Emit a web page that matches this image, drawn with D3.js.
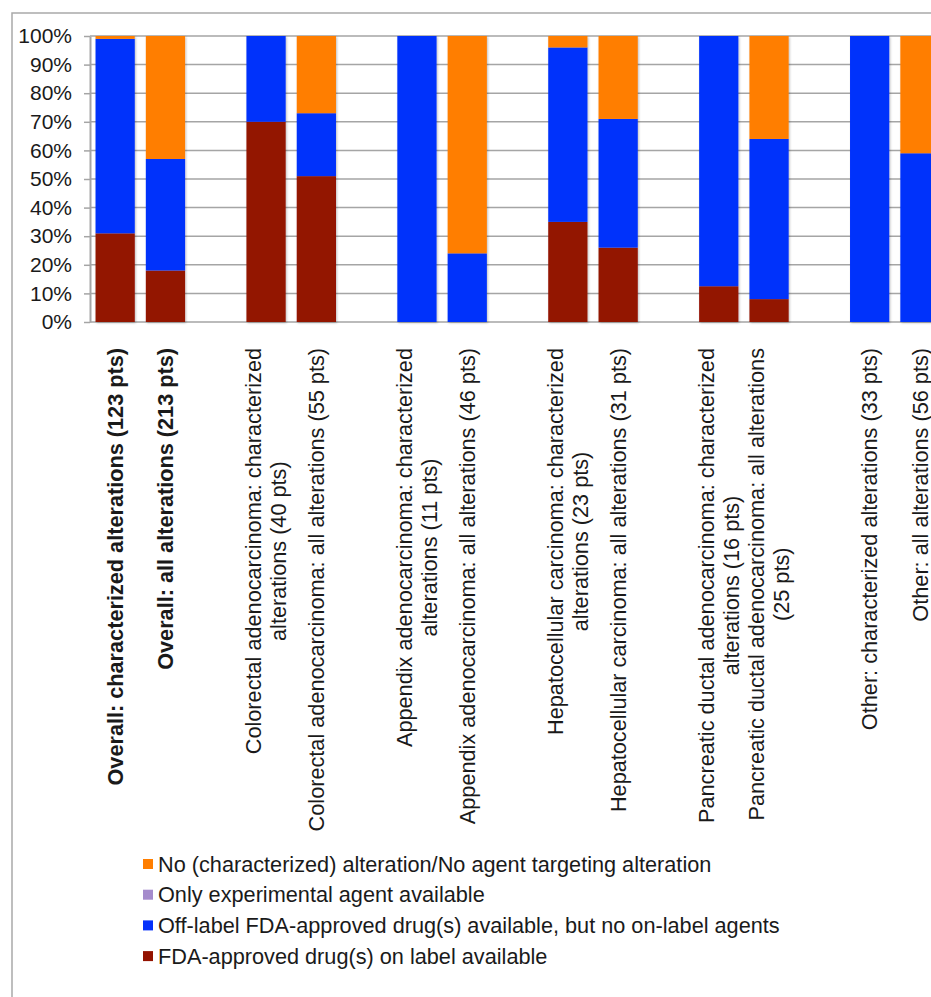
<!DOCTYPE html>
<html lang="en">
<head>
  <meta charset="UTF-8">
  <title>Drug availability by tumor type</title>
  <script src="https://d3js.org/d3.v7.min.js"></script>
  <style>
    body { margin: 0; background: #fff; }
    svg { display: block; font-family: "Liberation Sans", Arial, sans-serif; }
  </style>
</head>
<body>

<script>
  // category labels, already broken into lines like the original
  const labels = [
    ["Overall: characterized alterations (123 pts)"],
    ["Overall: all alterations (213 pts)"],
    ["Colorectal adenocarcinoma: characterized", "alterations (40 pts)"],
    ["Colorectal adenocarcinoma: all alterations (55 pts)"],
    ["Appendix adenocarcinoma: characterized", "alterations (11 pts)"],
    ["Appendix adenocarcinoma: all alterations (46 pts)"],
    ["Hepatocellular carcinoma: characterized", "alterations (23 pts)"],
    ["Hepatocellular carcinoma: all alterations (31 pts)"],
    ["Pancreatic ductal adenocarcinoma: characterized", "alterations (16 pts)"],
    ["Pancreatic ductal adenocarcinoma: all alterations", "(25 pts)"],
    ["Other: characterized alterations (33 pts)"],
    ["Other: all alterations (56 pts)"]
  ];
  const boldLabels = [true, true, false, false, false, false, false, false, false, false, false, false];

  // percentages, bottom to top
  const onLabel      = [31, 18, 70, 51, 0, 0, 35, 26, 12.5, 8, 0, 0];
  const offLabel     = [68, 39, 30, 22, 100, 24, 61, 45, 87.5, 56, 100, 59];
  const experimental = [0, 0, 0, 0, 0, 0, 0, 0, 0, 0, 0, 0];
  const noAgent      = [1, 43, 0, 27, 0, 76, 4, 29, 0, 36, 0, 41];

  const yTicks = [0, 10, 20, 30, 40, 50, 60, 70, 80, 90, 100];

  const seriesNames = [
    "FDA-approved drug(s) on label available",
    "Off-label FDA-approved drug(s) available, but no on-label agents",
    "Only experimental agent available",
    "No (characterized) alteration/No agent targeting alteration"
  ];
  const colors = ["#931200", "#0531fb", "#a58bcc", "#ff7e00"];

  const W = 931, H = 997;
  const svg = d3.select("body").append("svg")
    .attr("width", W)
    .attr("height", H);

  const defs = svg.append("defs");
  defs.append("filter").attr("id", "shadow")
    .attr("x", "-10%").attr("y", "-10%").attr("width", "130%").attr("height", "130%")
    .append("feDropShadow")
    .attr("dx", 1).attr("dy", 1).attr("stdDeviation", 1)
    .attr("flood-color", "#000").attr("flood-opacity", 0.25);

  // outer frame (cut by the picture edge on right/bottom)
  svg.append("rect")
    .attr("x", 12).attr("y", 13)
    .attr("width", W + 20).attr("height", H + 20)
    .attr("fill", "none")
    .attr("stroke", "#a9a9a9")
    .attr("stroke-width", 1.5);

  // one empty slot between each pair of bars
  const slotOf = i => i + Math.floor(i / 2);
  const nSlots = 17;
  const step = 50.3;
  const x0 = 90;

  const x = d3.scaleBand()
    .domain(d3.range(nSlots))
    .range([x0, x0 + nSlots * step])
    .paddingInner(0.22)
    .paddingOuter(0.11);

  const y = d3.scaleLinear()
    .domain([0, 100])
    .range([322, 36]);

  // gridlines
  svg.append("g")
    .selectAll("line")
    .data(yTicks)
    .enter().append("line")
    .attr("x1", x0)
    .attr("x2", W + 10)
    .attr("y1", d => y(d))
    .attr("y2", d => y(d))
    .attr("stroke", "#a5a5a5")
    .attr("stroke-width", 1.5);

  // y axis
  const yAxis = svg.append("g")
    .attr("transform", "translate(" + x0 + ",0)")
    .call(d3.axisLeft(y).tickValues(yTicks).tickSize(6).tickSizeOuter(0)
      .tickPadding(12).tickFormat(d => d + "%"));
  yAxis.select(".domain").attr("stroke", "#a5a5a5").attr("stroke-width", 2);
  yAxis.selectAll(".tick line").attr("stroke", "#a5a5a5").attr("stroke-width", 1.5);
  yAxis.selectAll(".tick text")
    .attr("fill", "#1a1a1a")
    .style("font-size", "21px")
    .style("font-family", "'Liberation Sans', Arial, sans-serif");

  // stacked series
  const table = labels.map((l, i) => ({
    i: i,
    s0: onLabel[i], s1: offLabel[i], s2: experimental[i], s3: noAgent[i]
  }));
  const stack = d3.stack().keys(["s0", "s1", "s2", "s3"]);
  const layers = stack(table);

  const barG = svg.append("g").attr("filter", "url(#shadow)");
  layers.forEach((layer, k) => {
    barG.selectAll(".bar" + k)
      .data(layer.filter(d => d[1] > d[0]))
      .enter().append("rect")
      .attr("class", "bar" + k)
      .attr("x", d => x(slotOf(d.data.i)))
      .attr("width", x.bandwidth())
      .attr("y", d => y(d[1]))
      .attr("height", d => y(d[0]) - y(d[1]))
      .attr("fill", colors[k]);
  });

  // rotated category labels
  const lineH = 25.5;
  const labelTop = 348;
  labels.forEach((lines, i) => {
    const cx = x(slotOf(i)) + x.bandwidth() / 2;
    const g = svg.append("g")
      .attr("transform", "translate(" + cx + "," + labelTop + ") rotate(-90)");
    const texts = g.selectAll("text")
      .data(lines)
      .enter().append("text")
      .attr("y", (d, j) => (j - (lines.length - 1) / 2) * lineH)
      .attr("dy", "0.35em")
      .attr("text-anchor", "middle")
      .attr("fill", "#1a1a1a")
      .style("font-size", "21.7px")
      .style("font-weight", boldLabels[i] ? "bold" : "normal")
      .text(d => d);
    let maxLen = 0;
    texts.each(function() { maxLen = Math.max(maxLen, this.getComputedTextLength()); });
    texts.attr("x", -maxLen / 2);
  });

  // legend, top to bottom
  const legendOrder = [3, 2, 1, 0];
  const legend = svg.selectAll(".legend")
    .data(legendOrder)
    .enter().append("g")
    .attr("class", "legend")
    .attr("transform", (d, i) => "translate(143," + (864 + i * 30.7) + ")");

  legend.append("rect")
    .attr("x", 0)
    .attr("y", -5)
    .attr("width", 10)
    .attr("height", 10)
    .attr("fill", d => colors[d]);

  legend.append("text")
    .attr("x", 15)
    .attr("dy", "0.35em")
    .attr("fill", "#1a1a1a")
    .style("font-size", "21.7px")
    .text(d => seriesNames[d]);
</script>

</body>
</html>
